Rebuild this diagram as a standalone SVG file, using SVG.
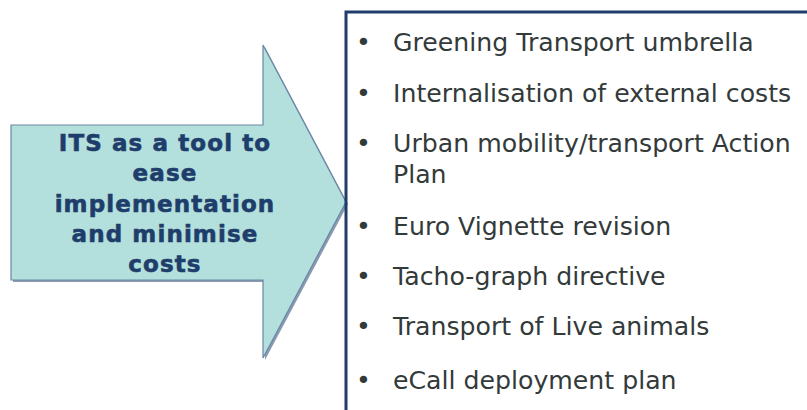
<svg xmlns="http://www.w3.org/2000/svg" width="807" height="410" viewBox="0 0 807 410">
<style>
.lbl{font-family:"DejaVu Sans","Verdana",sans-serif;font-weight:bold;font-size:23px;letter-spacing:1.1px;fill:#1f3d6b;stroke:#1f3d6b;stroke-width:0.6;text-anchor:middle}
.it{font-family:"DejaVu Sans","Verdana",sans-serif;font-size:25.2px;fill:#333a3a}
</style>
<rect width="807" height="410" fill="#ffffff"/>
<g id="arrow">
<polygon points="13,127 265,127 265,47 348,204 265,360 265,282 13,282" fill="#8a9ab0"/>
<polygon points="11,125 263,125 263,45 346,202 263,358 263,280 11,280" fill="#b3e0dc" stroke="#6a86a6" stroke-width="1.2"/>
<text class="lbl" x="165" y="151">ITS as a tool to</text>
<text class="lbl" x="165" y="181">ease</text>
<text class="lbl" x="165" y="212">implementation</text>
<text class="lbl" x="165" y="242">and minimise</text>
<text class="lbl" x="165" y="272">costs</text>
</g>
<g id="list">
<path d="M346,410 V12 H807" fill="none" stroke="#1f3d6b" stroke-width="3"/>
<g class="it">
<text x="356" y="51">•</text><text x="393" y="51">Greening Transport umbrella</text>
<text x="356" y="102">•</text><text x="393" y="102">Internalisation of external costs</text>
<text x="356" y="152">•</text><text x="393" y="152">Urban mobility/transport Action</text>
<text x="393" y="183">Plan</text>
<text x="356" y="235">•</text><text x="393" y="235">Euro Vignette revision</text>
<text x="356" y="285">•</text><text x="393" y="285">Tacho-graph directive</text>
<text x="356" y="335">•</text><text x="393" y="335">Transport of Live animals</text>
<text x="356" y="389">•</text><text x="393" y="389">eCall deployment plan</text>
</g>
</g>
</svg>
